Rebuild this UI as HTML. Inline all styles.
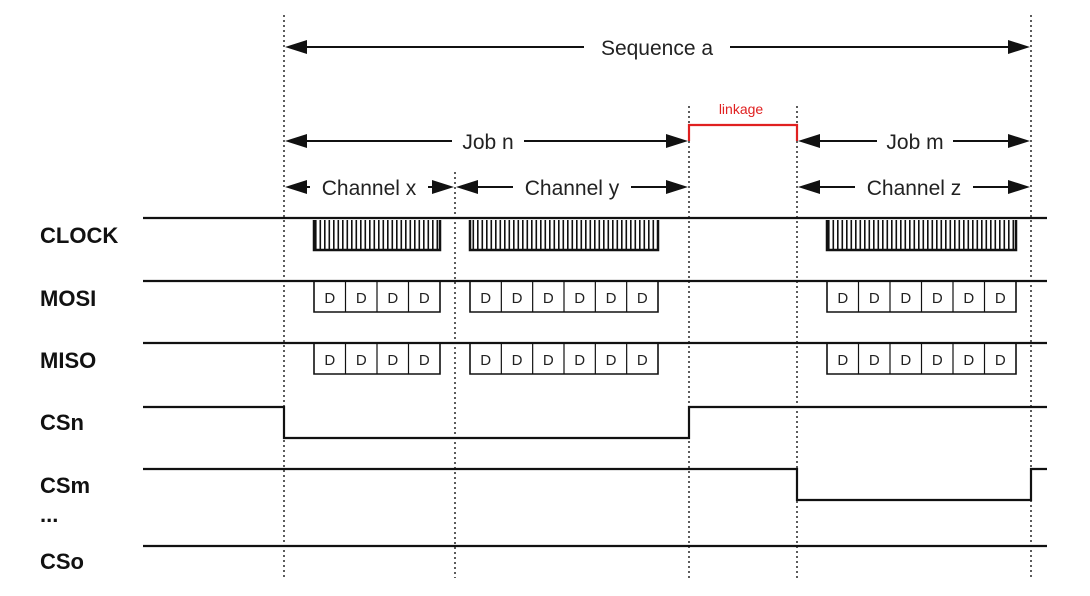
<!DOCTYPE html>
<html><head><meta charset="utf-8"><style>
html,body{margin:0;padding:0;background:#fff;}
svg{display:block;}
text{font-family:"Liberation Sans",Arial,sans-serif;}
</style></head><body>
<svg id="s" width="1090" height="596" viewBox="0 0 1090 596" xmlns="http://www.w3.org/2000/svg">
<defs>
<pattern id="clk" x="0" y="0" width="4.5" height="40" patternUnits="userSpaceOnUse">
<rect x="0" y="0" width="1.6" height="40" fill="#111"/>
</pattern>
</defs>
<g stroke="#333" stroke-width="1.6" stroke-dasharray="2,3">
<line x1="284" y1="15" x2="284" y2="578"/>
<line x1="455" y1="172" x2="455" y2="578"/>
<line x1="689" y1="106" x2="689" y2="578"/>
<line x1="797" y1="106" x2="797" y2="578"/>
<line x1="1031" y1="15" x2="1031" y2="578"/>
</g>
<g stroke="#111" stroke-width="2.2" fill="none">
<line x1="143" y1="218" x2="1047" y2="218"/>
<line x1="143" y1="281" x2="1047" y2="281"/>
<line x1="143" y1="343" x2="1047" y2="343"/>
<polyline points="143,407 284,407 284,438 689,438 689,407 1047,407"/>
<polyline points="143,469 797,469 797,500 1031,500 1031,469 1047,469"/>
<line x1="143" y1="546" x2="1047" y2="546"/>
</g>
<g id="clocks"></g>
<g id="boxes"></g>
<g id="arrows" stroke="#111" stroke-width="2" fill="#111"></g>
<polyline points="689,141 689,125 797,125 797,141" fill="none" stroke="#e02020" stroke-width="2.2"/>
<text x="741" y="114" font-size="14" fill="#e02020" text-anchor="middle">linkage</text>
<g font-size="21" fill="#222" text-anchor="middle">
<rect x="584" y="34" width="146" height="26" fill="#fff"/>
<text x="657" y="55">Sequence a</text>
<rect x="452" y="128" width="72" height="26" fill="#fff"/>
<text x="488" y="149">Job n</text>
<rect x="877" y="128" width="76" height="26" fill="#fff"/>
<text x="915" y="149">Job m</text>
<rect x="310" y="174" width="118" height="26" fill="#fff"/>
<text x="369" y="195">Channel x</text>
<rect x="513" y="174" width="118" height="26" fill="#fff"/>
<text x="572" y="195">Channel y</text>
<rect x="855" y="174" width="118" height="26" fill="#fff"/>
<text x="914" y="195">Channel z</text>
</g>
<g font-size="22" font-weight="bold" fill="#111">
<text x="40" y="243">CLOCK</text>
<text x="40" y="306">MOSI</text>
<text x="40" y="368">MISO</text>
<text x="40" y="430">CSn</text>
<text x="40" y="493">CSm</text>
<text x="40" y="522">...</text>
<text x="40" y="569">CSo</text>
</g>
</svg>
<script>
var NS="http://www.w3.org/2000/svg";
function el(p,t,a,txt){var e=document.createElementNS(NS,t);for(var k in a)e.setAttribute(k,a[k]);if(txt)e.textContent=txt;document.getElementById(p).appendChild(e);return e;}
var blocks=[[314,440,4],[470,658,6],[827,1016,6]];
blocks.forEach(function(b){
 el("clocks","rect",{x:b[0],y:220,width:b[1]-b[0],height:30,fill:"url(#clk)"});
 el("clocks","polyline",{points:b[0]+",220 "+b[0]+",250 "+b[1]+",250 "+b[1]+",220",fill:"none",stroke:"#111","stroke-width":2.5});
 [281,343].forEach(function(y){
  var w=(b[1]-b[0])/b[2];
  el("boxes","polyline",{points:b[0]+","+y+" "+b[0]+","+(y+31)+" "+b[1]+","+(y+31)+" "+b[1]+","+y,fill:"none",stroke:"#111","stroke-width":1.6});
  for(var i=0;i<b[2];i++){
   if(i>0)el("boxes","line",{x1:b[0]+i*w,y1:y,x2:b[0]+i*w,y2:y+31,stroke:"#111","stroke-width":1.2});
   el("boxes","text",{x:b[0]+i*w+w/2,y:y+22,"font-size":15,"text-anchor":"middle",fill:"#222"},"D");
  }
 });
});
function arrow(x1,x2,y){
 el("arrows","line",{x1:x1+10,y1:y,x2:x2-10,y2:y});
 el("arrows","polygon",{points:x1+","+y+" "+(x1+22)+","+(y-7)+" "+(x1+22)+","+(y+7),stroke:"none"});
 el("arrows","polygon",{points:x2+","+y+" "+(x2-22)+","+(y-7)+" "+(x2-22)+","+(y+7),stroke:"none"});
}
arrow(285,1030,47);arrow(285,688,141);arrow(798,1030,141);
arrow(285,454,187);arrow(456,688,187);arrow(798,1030,187);
</script>
</body></html>
